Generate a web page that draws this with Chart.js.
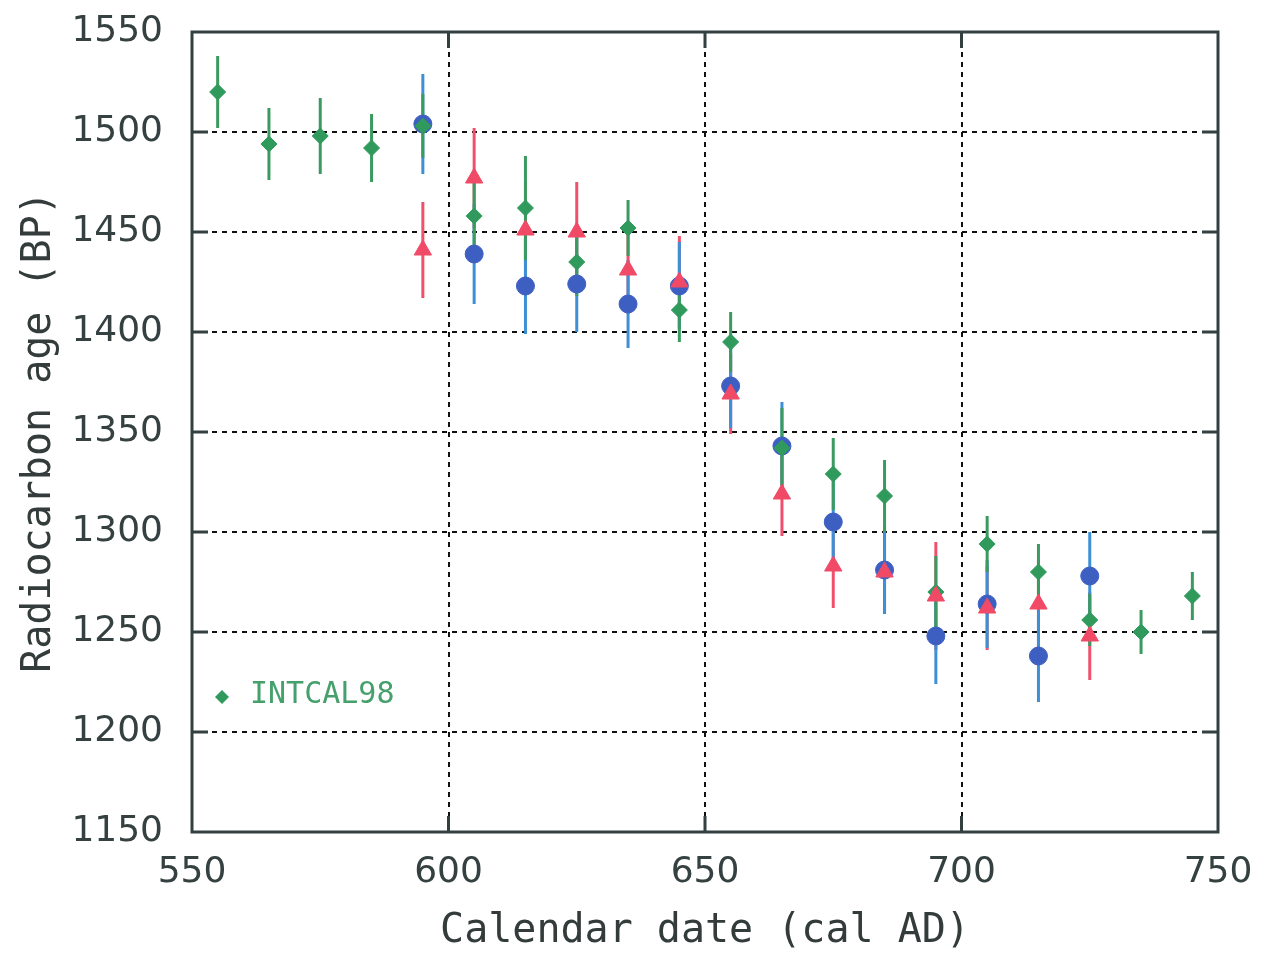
<!DOCTYPE html>
<html>
<head>
<meta charset="utf-8">
<script src="https://cdn.jsdelivr.net/npm/chart.js@4"></script>
<style>
  body { margin: 0; background: #fff; }
  #wrap { width: 1269px; height: 957px; }
</style>
</head>
<body>
<div id="wrap"><canvas id="myChart"></canvas></div>
<script>
// INTCAL98 (green diamonds)
const intcalYears = [555, 565, 575, 585, 595, 605, 615, 625, 635, 645, 655, 665, 675, 685, 695, 705, 715, 725, 735, 745];
const intcalAges = [1520, 1494, 1498, 1492, 1503, 1458, 1462, 1435, 1452, 1411, 1395, 1342, 1329, 1318, 1270, 1294, 1280, 1256, 1250, 1268];
const intcalErr = [18, 18, 19, 17, 16, 19, 26, 17, 14, 16, 15, 20, 18, 18, 18, 14, 14, 13, 11, 12];

// measured series (blue circles, red triangles)
const sampleYears = [595, 605, 615, 625, 635, 645, 655, 665, 675, 685, 695, 705, 715, 725];
const blueAges = [1504, 1439, 1423, 1424, 1414, 1423, 1373, 1343, 1305, 1281, 1248, 1264, 1238, 1278];
const blueErr = [25, 25, 24, 24, 22, 22, 21, 22, 22, 22, 24, 22, 23, 22];
const redAges = [1441, 1477, 1451, 1450, 1431, 1425, 1369, 1319, 1283, 1280, 1268, 1262, 1264, 1248];
const redErr = [24, 25, 24, 25, 22, 23, 20, 21, 21, 21, 27, 21, 22, 22];

const xTicks = [550, 600, 650, 700, 750];
const yTicks = [1150, 1200, 1250, 1300, 1350, 1400, 1450, 1500, 1550];

const toPoints = (xs, ys) => xs.map((x, i) => ({ x: x, y: ys[i] }));

const ctx = document.getElementById('myChart');

// error bars, inward ticks, frame and the INTCAL98 key
const extrasPlugin = {
  id: 'extras',
  beforeDatasetsDraw(chart) {
    const c = chart.ctx;
    const xs = chart.scales.x, ys = chart.scales.y;
    const bars = [
      { xs: sampleYears, v: redAges, e: redErr, color: '#f0506c' },
      { xs: sampleYears, v: blueAges, e: blueErr, color: '#3d8fd6' },
      { xs: intcalYears, v: intcalAges, e: intcalErr, color: '#3a9a60' },
    ];
    c.save();
    c.lineWidth = 3;
    bars.forEach((b) => {
      c.strokeStyle = b.color;
      b.xs.forEach((yr, i) => {
        const px = xs.getPixelForValue(yr);
        c.beginPath();
        c.moveTo(px, ys.getPixelForValue(b.v[i] - b.e[i]));
        c.lineTo(px, ys.getPixelForValue(b.v[i] + b.e[i]));
        c.stroke();
      });
    });
    c.restore();
  },
  afterDraw(chart) {
    const c = chart.ctx;
    const a = chart.chartArea;
    const xs = chart.scales.x, ys = chart.scales.y;
    c.save();
    c.strokeStyle = '#334040';
    c.lineWidth = 3;
    c.beginPath();
    yTicks.slice(1, -1).forEach((t) => {
      const py = ys.getPixelForValue(t);
      c.moveTo(a.left, py); c.lineTo(a.left + 16, py);
      c.moveTo(a.right, py); c.lineTo(a.right - 16, py);
    });
    xTicks.slice(1, -1).forEach((t) => {
      const px = xs.getPixelForValue(t);
      c.moveTo(px, a.bottom); c.lineTo(px, a.bottom - 16);
      c.moveTo(px, a.top); c.lineTo(px, a.top + 16);
    });
    c.stroke();
    c.strokeRect(a.left, a.top, a.right - a.left, a.bottom - a.top);

    // key for INTCAL98
    const kx = a.left + 30, ky = 697;
    c.fillStyle = '#2f9a5c';
    c.beginPath();
    c.moveTo(kx, ky - 7); c.lineTo(kx + 7, ky); c.lineTo(kx, ky + 7); c.lineTo(kx - 7, ky);
    c.closePath();
    c.fill();
    c.fillStyle = '#45a06c';
    c.font = '30px "DejaVu Sans Mono"';
    c.textBaseline = 'middle';
    c.fillText(chart.data.datasets[1].label, kx + 28, ky - 2);
    c.restore();
  },
};

const myChart = new Chart(ctx, {
  type: 'scatter',
  data: {
    datasets: [
      {
        label: 'sample B',
        data: toPoints(sampleYears, redAges),
        pointStyle: 'triangle',
        pointRadius: 10,
        backgroundColor: '#f04a66',
        borderColor: '#f04a66',
        borderWidth: 1,
      },
      {
        label: 'INTCAL98',
        data: toPoints(intcalYears, intcalAges),
        pointStyle: 'rectRot',
        pointRadius: 8,
        backgroundColor: '#2f9a5c',
        borderColor: '#2f9a5c',
        borderWidth: 1,
      },
      {
        label: 'sample A',
        data: toPoints(sampleYears, blueAges),
        pointStyle: 'circle',
        pointRadius: 9,
        backgroundColor: '#3e5fc2',
        borderColor: '#3e5fc2',
        borderWidth: 1,
      },
    ],
  },
  options: {
    responsive: true,
    maintainAspectRatio: false,
    animation: false,
    layout: { padding: { top: 32, right: 51, left: 0, bottom: 0 } },
    plugins: {
      legend: { display: false },
      tooltip: { enabled: false },
    },
    scales: {
      x: {
        type: 'linear',
        min: 550,
        max: 750,
        afterBuildTicks: (scale) => { scale.ticks = xTicks.map((v) => ({ value: v })); },
        afterFit: (scale) => {
          scale.height = 125;
          scale.paddingLeft = 0;
          scale.paddingRight = 0;
        },
        ticks: {
          padding: 19,
          color: '#354040',
          font: { family: 'DejaVu Sans', size: 36 },
          callback: (v) => String(v),
        },
        grid: {
          color: (c) => (c.tick && (c.tick.value === 550 || c.tick.value === 750) ? 'rgba(0,0,0,0)' : '#111'),
          lineWidth: 2,
          drawTicks: false,
        },
        border: { display: false, dash: [5, 5] },
        title: {
          display: true,
          text: 'Calendar date (cal AD)',
          color: '#333b3b',
          font: { family: 'DejaVu Sans Mono', size: 40 },
          padding: { top: 0, bottom: 1 },
        },
      },
      y: {
        type: 'linear',
        min: 1150,
        max: 1550,
        afterBuildTicks: (scale) => { scale.ticks = yTicks.map((v) => ({ value: v })); },
        afterFit: (scale) => {
          scale.width = 192;
          scale.paddingTop = 0;
          scale.paddingBottom = 0;
        },
        ticks: {
          padding: 29,
          color: '#354040',
          font: { family: 'DejaVu Sans', size: 36 },
          callback: (v) => String(v),
        },
        grid: {
          color: (c) => (c.tick && (c.tick.value === 1150 || c.tick.value === 1550) ? 'rgba(0,0,0,0)' : '#111'),
          lineWidth: 2,
          drawTicks: false,
        },
        border: { display: false, dash: [5, 5] },
        title: {
          display: true,
          text: 'Radiocarbon age (BP)',
          color: '#333b3b',
          font: { family: 'DejaVu Sans Mono', size: 40 },
          padding: { top: 16, bottom: 0 },
        },
      },
    },
  },
  plugins: [extrasPlugin],
});
</script>
</body>
</html>
